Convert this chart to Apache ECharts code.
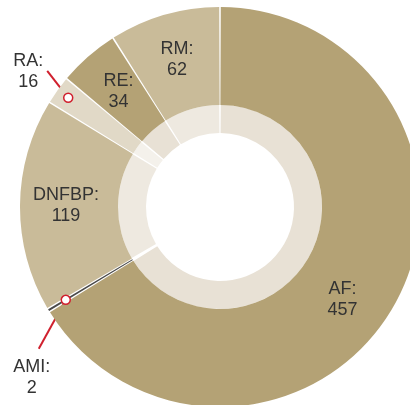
<!DOCTYPE html>
<html lang="en">
<head>
    <meta charset="UTF-8">
    <title>Donut</title>
    <style>
        html, body { margin: 0; padding: 0; background: #fff; }
        #main { width: 410px; height: 405px; }
    </style>
</head>
<body>
<div id="main"></div>
<script src="https://cdn.jsdelivr.net/npm/echarts@6/dist/echarts.min.js"></script>
<script>
    // data
    var categories = ['AF', 'AMI', 'DNFBP', 'RA', 'RE', 'RM'];
    var counts = [457, 2, 119, 16, 34, 62];
    var outerColors = ['#b4a275', '#4a4a4a', '#c9bb99', '#e1d9c7', '#b4a275', '#c9bb99'];
    var innerColors = ['#e8e1d5', '#ffffff', '#eee9e0', '#f4f1eb', '#e8e1d5', '#eee9e0'];
    var calloutNames = ['RA', 'AMI'];

    var center = [220, 207];
    var outerR = 200;
    // callout: marker radius, leader line end and label anchor (relative to the marker)
    var callouts = {
        RA: {r: 187, line: [-21, -27], label: [-40, -26], va: 'middle'},
        AMI: {r: 180, line: [-27, 49], label: [-34, 57], va: 'top'}
    };

    var total = counts.reduce(function (a, b) { return a + b; }, 0);

    var outerData = [], innerData = [], markerData = [];
    var cum = 0;
    for (var i = 0; i < categories.length; i++) {
        var item = {name: categories[i], value: counts[i], itemStyle: {color: outerColors[i]}};
        if (calloutNames.indexOf(categories[i]) >= 0) {
            item.label = {position: 'outside'};
            item.labelLine = {show: true, length: 15, length2: 0,
                lineStyle: {color: '#d0202e', width: 2}};
            markerData.push([callouts[categories[i]].r, cum + counts[i] / 2]);
        }
        outerData.push(item);
        innerData.push({name: categories[i], value: counts[i], itemStyle: {color: innerColors[i]}});
        cum += counts[i];
    }

    var option = {
        backgroundColor: '#ffffff',
        animation: false,
        polar: {center: center, radius: outerR},
        angleAxis: {type: 'value', min: 0, max: total, startAngle: 90, clockwise: true, show: false},
        radiusAxis: {type: 'value', min: 0, max: outerR, show: false},
        series: [
            {
                type: 'pie',
                center: center,
                radius: [74, 102],
                startAngle: 90,
                padAngle: 0.9,
                silent: true,
                label: {show: false},
                labelLine: {show: false},
                data: innerData
            },
            {
                type: 'pie',
                center: center,
                radius: [102, outerR],
                startAngle: 90,
                padAngle: 0.45,
                avoidLabelOverlap: false,
                label: {
                    show: true,
                    position: 'inside',
                    formatter: '{b}:\n{c}',
                    color: '#333333',
                    fontFamily: 'Liberation Sans, Arial, sans-serif',
                    fontSize: 18,
                    lineHeight: 21
                },
                labelLine: {show: false},
                labelLayout: function (params) {
                    var name = categories[params.dataIndex];
                    if (name === 'AF') {
                        return {dx: -12, dy: 17};
                    }
                    var c = callouts[name];
                    var p = params.labelLinePoints;
                    if (!c || !p) {
                        return {};
                    }
                    // p[0] sits on the outer edge; step back inward to the marker
                    var dx = p[1][0] - p[0][0], dy = p[1][1] - p[0][1];
                    var len = Math.sqrt(dx * dx + dy * dy) || 1;
                    var back = outerR - c.r;
                    var sx = p[0][0] - dx / len * back, sy = p[0][1] - dy / len * back;
                    var ex = sx + c.line[0], ey = sy + c.line[1];
                    return {
                        x: sx + c.label[0],
                        y: sy + c.label[1],
                        align: 'center',
                        verticalAlign: c.va,
                        labelLinePoints: [[sx, sy], [ex, ey], [ex, ey]]
                    };
                },
                data: outerData
            },
            {
                type: 'scatter',
                coordinateSystem: 'polar',
                symbol: 'circle',
                symbolSize: 9,
                z: 10,
                silent: true,
                itemStyle: {color: '#ffffff', borderColor: '#d0202e', borderWidth: 1.5, opacity: 1},
                data: markerData
            }
        ]
    };

    var myChart = echarts.init(document.getElementById('main'));
    myChart.setOption(option);
</script>
</body>
</html>
